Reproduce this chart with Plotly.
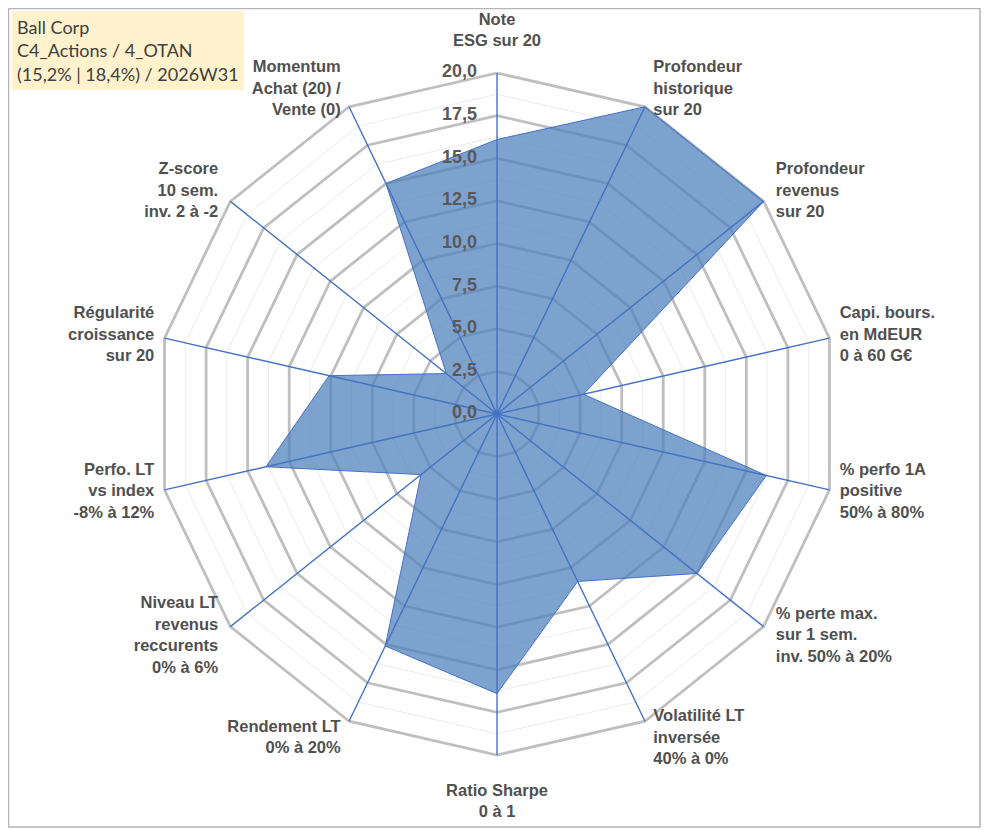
import math
import plotly.graph_objects as go

# ---------------- data ----------------
categories = [
    "Note<br>ESG sur 20",
    "Profondeur<br>historique<br>sur 20",
    "Profondeur<br>revenus<br>sur 20",
    "Capi. bours.<br>en MdEUR<br>0 à 60 G€",
    "% perfo 1A<br>positive<br>50% à 80%",
    "% perte max.<br>sur 1 sem.<br>inv. 50% à 20%",
    "Volatilité LT<br>inversée<br>40% à 0%",
    "Ratio Sharpe<br>0 à 1",
    "Rendement LT<br>0% à 20%",
    "Niveau LT<br>revenus<br>reccurents<br>0% à 6%",
    "Perfo. LT<br>vs index<br>-8% à 12%",
    "Régularité<br>croissance<br>sur 20",
    "Z-score<br>10 sem.<br>inv. 2 à -2",
    "Momentum<br>Achat (20) /<br>Vente (0)",
]
values = [16.1, 20.0, 20.0, 5.2, 16.2, 15.0, 10.9, 16.4, 15.1, 5.7, 13.9, 10.1, 3.8, 15.0]
radial_ticks = [0, 2.5, 5, 7.5, 10, 12.5, 15, 17.5, 20]
minor_ticks = [1.25, 3.75, 6.25, 8.75, 11.25, 13.75, 16.25, 18.75]
title_lines = ["Ball Corp", "C4_Actions / 4_OTAN", "(15,2% | 18,4%) / 2026W31"]

# ---------------- layout constants ----------------
PAGE_OFF = 8                      # default body margin of the html page
W, H = 991 - PAGE_OFF, 830 - PAGE_OFF
CX, CY = 497 - PAGE_OFF, 414 - PAGE_OFF
RMAX = 20                         # outer grid value
R20 = 341                         # pixel radius of value 20
RANGE_MAX = 22.5                  # radial range kept larger for labels
RPX = R20 * RANGE_MAX / RMAX
LABEL_COLOR = "#505050"
n = len(categories)

fig = go.Figure()
closed = categories + [categories[0]]

# minor grid polygons
for lv in minor_ticks:
    fig.add_trace(go.Scatterpolar(
        r=[lv] * (n + 1), theta=closed, mode="lines",
        line=dict(color="#EBEBEB", width=1), hoverinfo="skip", showlegend=False))
# major grid polygons
for lv in radial_ticks[1:]:
    fig.add_trace(go.Scatterpolar(
        r=[lv] * (n + 1), theta=closed, mode="lines",
        line=dict(color="#BFBFBF", width=2.8), hoverinfo="skip", showlegend=False))

# filled series
fig.add_trace(go.Scatterpolar(
    r=values + [values[0]], theta=closed, mode="lines", fill="toself",
    fillcolor="rgba(79,129,189,0.74)", line=dict(color="#4472C4", width=1),
    hoverinfo="skip", showlegend=False))

# spokes
sp_r, sp_t = [], []
for c in categories:
    sp_r += [0, RMAX, None]
    sp_t += [c, c, None]
fig.add_trace(go.Scatterpolar(
    r=sp_r, theta=sp_t, mode="lines", connectgaps=False,
    line=dict(color="#4472C4", width=1.4), hoverinfo="skip", showlegend=False))

# radial tick labels
fig.add_trace(go.Scatterpolar(
    r=radial_ticks, theta=[categories[0]] * len(radial_ticks), mode="text",
    text=[f"{v:.1f}".replace(".", ",") + "\u00a0" * 4 for v in radial_ticks],
    textposition="middle left", cliponaxis=False,
    textfont=dict(family="Liberation Sans", size=18, color="#595959", weight="bold"),
    hoverinfo="skip", showlegend=False))

# category labels
lab_r, lab_pos = [], []
for i in range(n):
    a = math.radians(i * 360.0 / n)
    s, c = math.sin(a), math.cos(a)
    rr = RMAX + 0.45 + 0.75 * abs(c)
    if s > 0.1:
        lab_pos.append("middle right")
    elif s < -0.1:
        lab_pos.append("middle left")
    elif c > 0:
        lab_pos.append("top center")
        rr += 0.12
    else:
        lab_pos.append("bottom center")
        rr += 0.45
    lab_r.append(rr)
fig.add_trace(go.Scatterpolar(
    r=lab_r, theta=categories, mode="text", text=categories,
    textposition=lab_pos, cliponaxis=False,
    textfont=dict(family="Liberation Sans", size=16.5, color=LABEL_COLOR, weight="bold"),
    hoverinfo="skip", showlegend=False))

fig.update_layout(
    width=W, height=H,
    margin=dict(l=0, r=0, t=0, b=0, autoexpand=False),
    paper_bgcolor="white", plot_bgcolor="white",
    showlegend=False,
    polar=dict(
        domain=dict(x=[(CX - RPX) / W, (CX + RPX) / W],
                    y=[1 - (CY + RPX) / H, 1 - (CY - RPX) / H]),
        bgcolor="rgba(0,0,0,0)",
        gridshape="circular",
        radialaxis=dict(range=[-0.001, RANGE_MAX], visible=False),
        angularaxis=dict(type="category", categoryarray=categories, direction="clockwise",
                         rotation=90, showgrid=False, showline=False, showticklabels=False,
                         ticks=""),
    ),
    annotations=[dict(
        text="<br>".join(title_lines), xref="paper", yref="paper",
        x=(12 - PAGE_OFF) / W, y=1 - (11 - PAGE_OFF) / H, xanchor="left", yanchor="top",
        align="left", showarrow=False, bgcolor="#FFF2CC", borderpad=5, borderwidth=0,
        font=dict(family="Lato", size=18, color="#404040"),
    )],
    shapes=[dict(type="rect", xref="paper", yref="paper", x0=0.5 / W, x1=(980 - PAGE_OFF) / W,
                 y0=(830 - 827) / H, y1=1 - 0.5 / H, line=dict(color="#B4B4B4", width=1.5))],
)

fig.write_html("out.html")
